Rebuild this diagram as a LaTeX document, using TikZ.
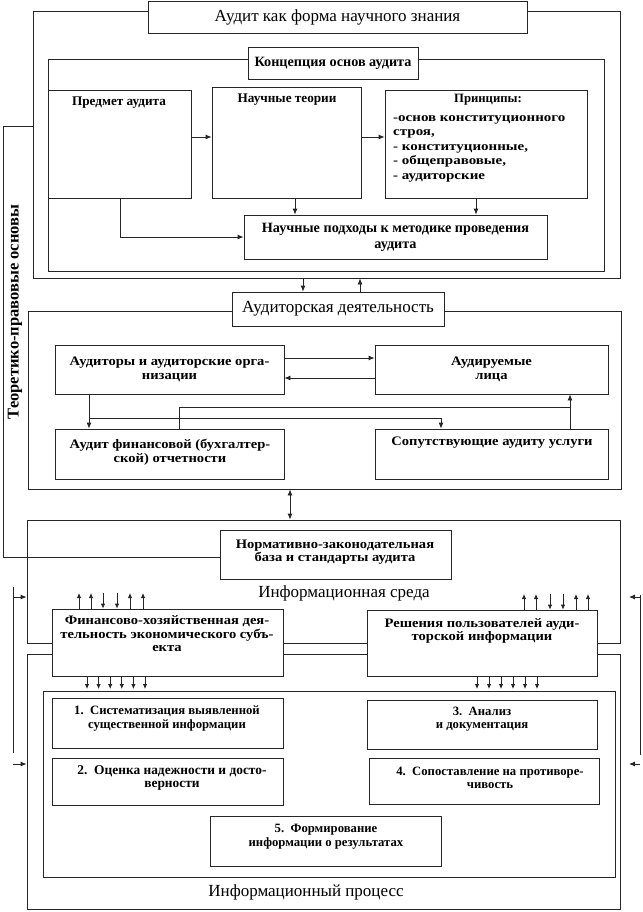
\documentclass[tikz,border=0pt]{standalone}
\usepackage{fontspec}
\setmainfont{Liberation Serif}
\newfontfamily\wfont[FakeStretch=1.12]{Liberation Serif}
\newfontfamily\wwfont[FakeStretch=1.2]{Liberation Serif}
\usetikzlibrary{arrows.meta}
\newcommand\mkbox[6][]{\node[boxst,#1, minimum width={#4pt-#2pt}, minimum height={#6pt-#3pt}] (#5) at ({(#2+#4)/2},{(#3+#6)/2})}
\begin{document}
\begin{tikzpicture}[x=1pt,y=-1pt,
  ln/.style={line width=0.8pt, draw=black!85},
  boxst/.style={draw=black!85, line width=0.8pt, fill=white, inner sep=0pt},
  frame/.style={draw=black!85, line width=0.8pt, inner sep=0pt},
  arr/.style={ln,-{Latex[length=6pt,width=5pt]}},
  darr/.style={ln,{Latex[length=6pt,width=5pt]}-{Latex[length=6pt,width=5pt]}},
  sarr/.style={ln,-{Latex[length=5pt,width=4.5pt]}},
  bt/.style={font=\bfseries\fontsize{12.7}{13.5}\selectfont, align=center, inner sep=0pt},
  wt/.style={font=\wfont\bfseries\fontsize{13}{13.5}\selectfont, align=center, inner sep=0pt},
  bbt/.style={font=\bfseries\fontsize{14.2}{16}\selectfont, align=center, inner sep=0pt},
  rt/.style={font=\fontsize{17}{19}\selectfont, align=center, inner sep=0pt},
  lt/.style={font=\wwfont\bfseries\fontsize{12.5}{14.6}\selectfont, align=left, inner sep=0pt}]
\useasboundingbox (0,0) rectangle (642,912);
% ---------- block 1
\mkbox[frame,fill=none]{33}{11}{620}{F1}{278} {};
\mkbox{148}{1}{527}{T1}{33} [rt] {Аудит как форма научного знания};
\mkbox[frame,fill=none]{48}{59}{604}{F2}{271} {};
\mkbox{248}{47}{418}{K}{79} [bbt] {Концепция основ аудита};
\mkbox{48}{90}{191}{P}{198} {};
\mkbox{212}{87}{361}{N}{198} {};
\mkbox{385}{90}{587}{Pr}{198} {};
\node[bt,font=\bfseries\fontsize{13.2}{14}\selectfont] (tP) at (119,103) {Предмет аудита};
\node[bt,font=\bfseries\fontsize{13.2}{14}\selectfont] (tN) at (287,100) {Научные теории};
\node[bt] (tPr) at (488,100) {Принципы:};
\node[lt,anchor=north west] (tPrl) at (393,115) {-основ конституционного\\строя,\\- конституционные,\\- общеправовые,\\- аудиторские};
\mkbox{244}{215}{547}{NP}{259} [bbt] {Научные подходы к методике проведения\\аудита};
\draw[arr] (P.east |- 0,137) -- (N.west |- 0,137);
\draw[arr] (N.east |- 0,137) -- (Pr.west |- 0,137);
\draw[arr] (N.south -| 295,0) -- (NP.north -| 295,0);
\draw[arr] (Pr.south -| 476,0) -- (NP.north -| 476,0);
\draw[arr] (P.south -| 120,0) |- (NP.west);
% ---------- block 2
\mkbox[frame,fill=none]{28}{311}{621}{F3}{489} {};
\mkbox{232}{292}{444}{AD}{326} [rt] {Аудиторская деятельность};
\draw[arr] (F1.south -| 303,0) -- (AD.north -| 303,0);
\draw[arr] (AD.north -| 360,0) -- (F1.south -| 360,0);
\mkbox{55}{345}{284}{A1}{394} [wt] {Аудиторы и аудиторские орга-\\низации};
\mkbox{375}{345}{608}{A2}{394} [wt] {Аудируемые\\лица};
\mkbox{55}{429}{284}{A3}{479} {};
\mkbox{375}{429}{608}{A4}{479} {};
\node[wt] (tA3) at (170,452) {Аудит финансовой (бухгалтер-\\ской) отчетности};
\node[wt] (tA4) at (492,443) {Сопутствующие аудиту услуги};
\draw[arr] (A1.east |- 0,358) -- (A2.west |- 0,358);
\draw[arr] (A2.west |- 0,378) -- (A1.east |- 0,378);
\draw[arr] (A1.south -| 89,0) -- (A3.north -| 89,0);
\coordinate (j1) at (89,418);
\draw[arr] (j1) -| (A4.north -| 441,0);
\coordinate (j2) at (570,407);
\draw[ln] (A3.north -| 179,0) |- (j2);
\draw[arr] (A4.north -| 570,0) -- (A2.south -| 570,0);
% ---------- block 3
\mkbox[frame,fill=none]{27}{520}{620}{F4}{643} {};
\mkbox[frame,fill=none]{27}{654}{620}{F5}{909} {};
\draw[darr] (F3.south -| 290,0) -- (F4.north -| 290,0);
\mkbox{220}{530}{451}{NB}{579} {};
\node[wt] (tNB) at (335,552) {Нормативно-законодательная\\база и стандарты аудита};
\coordinate (c1) at (3,126);
\coordinate (c2) at (3,557);
\draw[ln] (F1.west |- c1) -- (c1) -- (c2) -- (NB.west |- c2);
\node[font=\bfseries\fontsize{16.5}{18}\selectfont, rotate=90, inner sep=0pt] (vt) at (15,312) {Теоретико-правовые основы};
\node[rt] (tIS) at (344,593) {Информационная среда};
\mkbox{52}{609}{283}{FX}{676} {};
\mkbox{367}{610}{597}{RS}{676} {};
\node[wt] (tFX) at (167,634) {Финансово-хозяйственная дея-\\тельность экономического субъ-\\екта};
\node[wt] (tRS) at (482,631) {Решения пользователей ауди-\\торской информации};
\foreach \x in {79,91,130,143} \draw[sarr] (FX.north -| \x,0) -- (\x,593);
\foreach \x in {103,117} \draw[sarr] (\x,593) -- (FX.north -| \x,0);
\foreach \x in {524,536,576,588} \draw[sarr] (RS.north -| \x,0) -- (\x,594);
\foreach \x in {550,563} \draw[sarr] (\x,594) -- (RS.north -| \x,0);
\foreach \i in {0,...,5} {
  \draw[sarr] (FX.south -| {87+11.6*\i},0) -- ({87+11.6*\i},689);
  \draw[sarr] (RS.south -| {477+12*\i},0) -- ({477+12*\i},689);
}
% side brackets
\coordinate (L1) at (13,587); \coordinate (L2) at (13,753);
\draw[ln] (L1) -- (L2);
\coordinate (La) at (13,597); \coordinate (Lb) at (13,764);
\draw[arr] (La) -- (F4.west |- La);
\draw[arr] (Lb) -- (F5.west |- Lb);
\coordinate (R1) at (640,595); \coordinate (R2) at (640,755);
\draw[ln] (R1) -- (R2);
\coordinate (Ra) at (640,597); \coordinate (Rb) at (640,764);
\coordinate (Rat) at (629,597); \coordinate (Rbt) at (629,764);
\draw[arr] (Ra) -- (Rat);
\draw[arr] (Rb) -- (Rbt);
% process
\mkbox[frame,fill=none]{43}{691}{615}{PF}{877} {};
\mkbox{52}{698}{283}{B1}{748} {};
\mkbox{367}{700}{597}{B3}{749} {};
\mkbox{52}{758}{283}{B2}{805} {};
\mkbox{369}{758}{599}{B4}{804} {};
\mkbox{210}{816}{441}{B5}{866} {};
\node[bt] (tB1) at (167,718.5) {1.\ \ Систематизация выявленной\\существенной информации};
\node[bt] (tB3) at (482,719) {3.\ \ Анализ\\и документация};
\node[bt,font=\bfseries\fontsize{13.4}{13.5}\selectfont] (tB2) at (172,778) {2.\ \ Оценка надежности и досто-\\верности};
\node[bt] (tB4) at (490,778) {4.\ \ Сопоставление на противоре-\\чивость};
\node[bt] (tB5) at (326,836.5) {5.\ \ Формирование\\информации о результатах};
\node[rt] (tIP) at (306,892) {Информационный процесс};
\end{tikzpicture}
\end{document}
